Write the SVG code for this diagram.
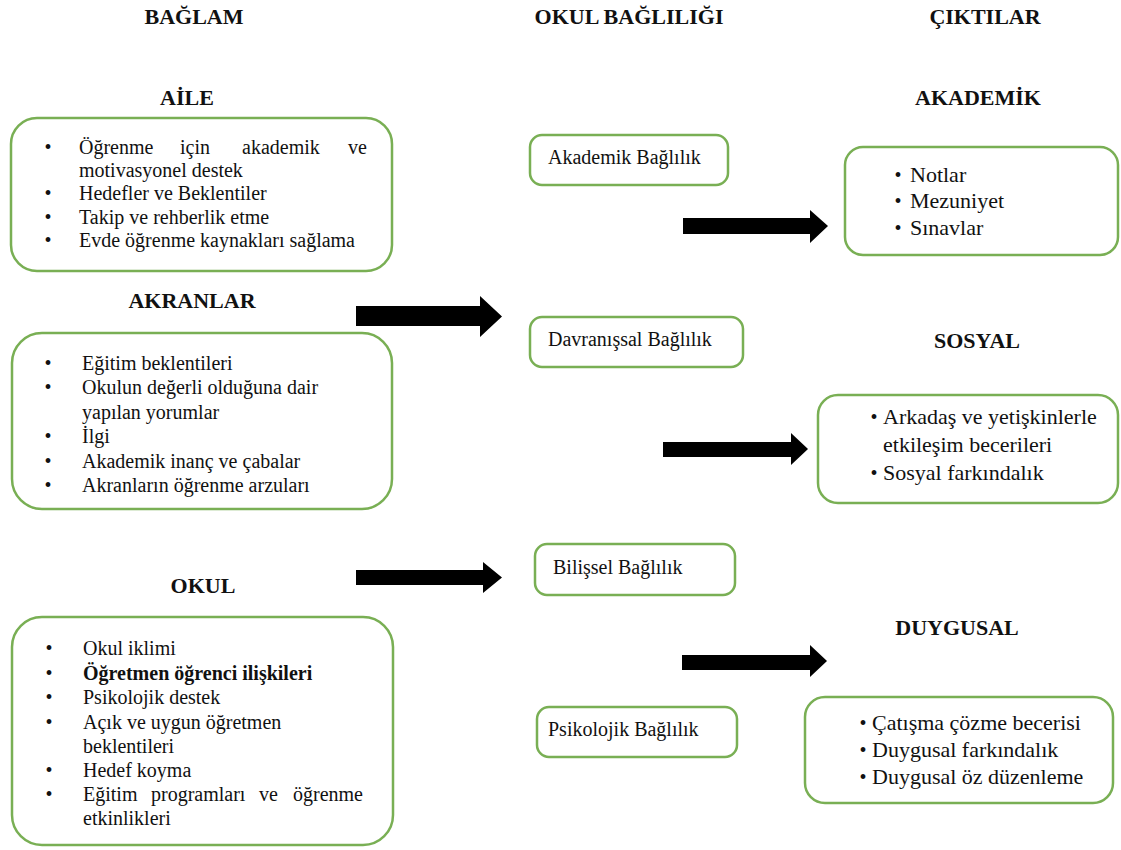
<svg xmlns="http://www.w3.org/2000/svg" width="1121" height="850" viewBox="0 0 1121 850">
  <style>
    .box { fill: #ffffff; stroke: #79AF54; stroke-width: 2.5; }
    .head { font-family: "Liberation Serif", "Times New Roman", serif; font-size: 22px; font-weight: bold; fill: #111; text-anchor: middle; }
    .txt { font-family: "Liberation Serif", "Times New Roman", serif; font-size: 20px; fill: #111; }
    .out { font-family: "Liberation Serif", "Times New Roman", serif; font-size: 22px; fill: #111; }
    .dot { font-family: "Liberation Serif", "Times New Roman", serif; font-size: 20px; fill: #111; text-anchor: middle; }
    .b { font-weight: bold; }
    .arrow { fill: #000; }
  </style>

  <!-- column titles -->
  <g id="titles">
    <text class="head" x="194" y="24">BAĞLAM</text>
    <text class="head" x="629" y="24">OKUL BAĞLILIĞI</text>
    <text class="head" x="985" y="24">ÇIKTILAR</text>
  </g>

  <!-- context: family -->
  <g id="aile">
    <text class="head" x="187" y="105">AİLE</text>
    <rect class="box" x="11" y="118" width="381" height="153" rx="26"/>
    <text class="dot" x="48" y="154">•</text>
    <text class="txt" y="154"><tspan x="79">Öğrenme</tspan><tspan x="180">için</tspan><tspan x="242">akademik</tspan><tspan x="348">ve</tspan></text>
    <text class="txt" x="79" y="177">motivasyonel destek</text>
    <text class="dot" x="48" y="200">•</text>
    <text class="txt" x="79" y="200">Hedefler ve Beklentiler</text>
    <text class="dot" x="48" y="224">•</text>
    <text class="txt" x="79" y="224">Takip ve rehberlik etme</text>
    <text class="dot" x="48" y="247">•</text>
    <text class="txt" x="79" y="247">Evde öğrenme kaynakları sağlama</text>
  </g>

  <!-- context: peers -->
  <g id="akranlar">
    <text class="head" x="192" y="308">AKRANLAR</text>
    <rect class="box" x="12" y="333" width="380" height="176" rx="30"/>
    <text class="dot" x="48" y="370">•</text>
    <text class="txt" x="82" y="370">Eğitim beklentileri</text>
    <text class="dot" x="48" y="394">•</text>
    <text class="txt" x="82" y="394">Okulun değerli olduğuna dair</text>
    <text class="txt" x="82" y="419">yapılan yorumlar</text>
    <text class="dot" x="48" y="443">•</text>
    <text class="txt" x="82" y="443">İlgi</text>
    <text class="dot" x="48" y="468">•</text>
    <text class="txt" x="82" y="468">Akademik inanç ve çabalar</text>
    <text class="dot" x="48" y="492">•</text>
    <text class="txt" x="82" y="492">Akranların öğrenme arzuları</text>
  </g>

  <!-- context: school -->
  <g id="okul">
    <text class="head" x="203" y="593">OKUL</text>
    <rect class="box" x="12" y="617" width="381" height="228" rx="30"/>
    <text class="dot" x="49" y="655">•</text>
    <text class="txt" x="83" y="655">Okul iklimi</text>
    <text class="dot" x="49" y="680">•</text>
    <text class="txt b" x="83" y="680">Öğretmen öğrenci ilişkileri</text>
    <text class="dot" x="49" y="704">•</text>
    <text class="txt" x="83" y="704">Psikolojik destek</text>
    <text class="dot" x="49" y="729">•</text>
    <text class="txt" x="83" y="729">Açık ve uygun öğretmen</text>
    <text class="txt" x="83" y="753">beklentileri</text>
    <text class="dot" x="49" y="777">•</text>
    <text class="txt" x="83" y="777">Hedef koyma</text>
    <text class="dot" x="49" y="801">•</text>
    <text class="txt" y="801"><tspan x="83">Eğitim</tspan><tspan x="151">programları</tspan><tspan x="259">ve</tspan><tspan x="293">öğrenme</tspan></text>
    <text class="txt" x="83" y="825">etkinlikleri</text>
  </g>

  <!-- school engagement -->
  <g id="akademik-baglilik">
    <rect class="box" x="530" y="135" width="198" height="50" rx="12"/>
    <text class="txt" x="548" y="164">Akademik Bağlılık</text>
  </g>
  <g id="davranissal-baglilik">
    <rect class="box" x="530" y="317" width="213" height="50" rx="12"/>
    <text class="txt" x="548" y="346">Davranışsal Bağlılık</text>
  </g>
  <g id="bilissel-baglilik">
    <rect class="box" x="535" y="544" width="200" height="51" rx="12"/>
    <text class="txt" x="553" y="574">Bilişsel Bağlılık</text>
  </g>
  <g id="psikolojik-baglilik">
    <rect class="box" x="537" y="707" width="200" height="50" rx="12"/>
    <text class="txt" x="548" y="736">Psikolojik Bağlılık</text>
  </g>

  <!-- outcomes -->
  <g id="akademik">
    <text class="head" x="978" y="105">AKADEMİK</text>
    <rect class="box" x="845" y="147" width="273" height="108" rx="18"/>
    <text class="dot" x="898" y="182">•</text>
    <text class="out" x="910" y="182">Notlar</text>
    <text class="dot" x="898" y="208">•</text>
    <text class="out" x="910" y="208">Mezuniyet</text>
    <text class="dot" x="898" y="235">•</text>
    <text class="out" x="910" y="235">Sınavlar</text>
  </g>
  <g id="sosyal">
    <text class="head" x="977" y="348">SOSYAL</text>
    <rect class="box" x="818" y="395" width="300" height="108" rx="20"/>
    <text class="dot" x="874" y="424">•</text>
    <text class="out" x="883" y="424">Arkadaş ve yetişkinlerle</text>
    <text class="out" x="883" y="452">etkileşim becerileri</text>
    <text class="dot" x="874" y="480">•</text>
    <text class="out" x="883" y="480">Sosyal farkındalık</text>
  </g>
  <g id="duygusal">
    <text class="head" x="957" y="635">DUYGUSAL</text>
    <rect class="box" x="805" y="697" width="308" height="106" rx="20"/>
    <text class="dot" x="863" y="730">•</text>
    <text class="out" x="872" y="730">Çatışma çözme becerisi</text>
    <text class="dot" x="863" y="757">•</text>
    <text class="out" x="872" y="757">Duygusal farkındalık</text>
    <text class="dot" x="863" y="784">•</text>
    <text class="out" x="872" y="784">Duygusal öz düzenleme</text>
  </g>

  <!-- block arrows -->
  <g id="connectors">
    <polygon class="arrow" points="356,306 480,306 480,296 502,316.5 480,337 480,326 356,326"/>
    <polygon class="arrow" points="683,218 810,218 810,210 828,226 810,243 810,234 683,234"/>
    <polygon class="arrow" points="663,442 791,442 791,433 808,449 791,465 791,457 663,457"/>
    <polygon class="arrow" points="356,570 483,570 483,562 502,577.5 483,593 483,585 356,585"/>
    <polygon class="arrow" points="682,655 810,655 810,645 827,661 810,677 810,670 682,670"/>
  </g>
</svg>
